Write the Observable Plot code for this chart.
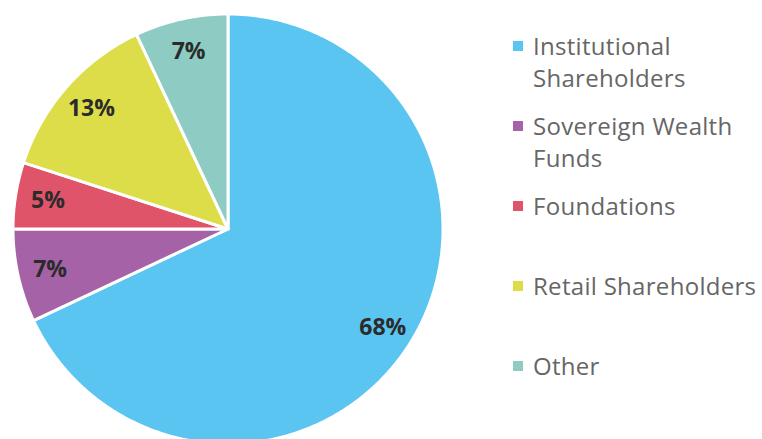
<!DOCTYPE html>
<html>
<head>
<meta charset="utf-8">
<script src="https://cdn.jsdelivr.net/npm/d3@7"></script>
<script src="https://cdn.jsdelivr.net/npm/@observablehq/plot@0.6"></script>
<style>
  html, body { margin: 0; padding: 0; background: #fff; }
  #wrap { display: flex; width: 762px; height: 439px; overflow: hidden; font-family: "Open Sans", sans-serif; }
  #chart svg { display: block; }
  #legend { padding-top: 30px; margin-left: 23px; }
  .item { height: 80px; display: flex; align-items: flex-start; }
  .sw { width: 10px; height: 10px; margin-top: 11px; margin-right: 10px; flex: none; }
  .lab { font-size: 24px; letter-spacing: 0.3px; line-height: 32px; color: #666; width: 229px; }
</style>
</head>
<body>
<div id="wrap"><div id="chart"></div><div id="legend"></div></div>
<script>
const categories = ["Institutional Shareholders", "Sovereign Wealth Funds", "Foundations", "Retail Shareholders", "Other"];
const shares = [68, 7, 5, 13, 7];
const labels = ["68%", "7%", "5%", "13%", "7%"];
const colors = ["#5bc5f2", "#a662a6", "#e0546a", "#dcdd49", "#8dcbc3"];

const data = categories.map((name, i) => ({name, value: shares[i], label: labels[i]}));
const arcs = d3.pie().sort(null).value(d => d.value).startAngle(0).endAngle(2 * Math.PI)(data);

// wedge outlines on the unit circle (0 rad = 12 o'clock, clockwise)
const wedgeRows = [];
for (const a of arcs) {
  const n = Math.max(2, Math.ceil((a.endAngle - a.startAngle) / 0.01));
  for (let k = 0; k <= n; k++) {
    const t = a.startAngle + (a.endAngle - a.startAngle) * k / n;
    wedgeRows.push({name: a.data.name, x1: Math.sin(t), y1: -Math.cos(t), x2: 0, y2: 0});
  }
}
const labelRows = arcs.map(a => {
  const m = (a.startAngle + a.endAngle) / 2, r = 0.85;
  return {name: a.data.name, label: a.data.label, x: r * Math.sin(m), y: -r * Math.cos(m)};
});

const chart = Plot.plot({
  width: 490,
  height: 439,
  margin: 0,
  style: {fontFamily: "Open Sans, sans-serif", background: "#fff"},
  x: {domain: [-1, 1], range: [13, 443], axis: null},
  y: {domain: [-1, 1], range: [14, 444], axis: null},
  color: {domain: categories, range: colors},
  marks: [
    Plot.area(wedgeRows, {x1: "x1", y1: "y1", x2: "x2", y2: "y2", z: "name", fill: "name",
      stroke: "white", strokeWidth: 3, strokeLinejoin: "round", curve: "linear"}),
    Plot.text(labelRows, {x: "x", y: "y", text: "label", fontSize: 23, fontWeight: "bold", fill: "#2b2b2b"})
  ]
});
document.getElementById("chart").appendChild(chart);

const legend = document.getElementById("legend");
categories.forEach((c, i) => {
  const item = document.createElement("div");
  item.className = "item";
  const sw = document.createElement("div");
  sw.className = "sw";
  sw.style.background = colors[i];
  const lab = document.createElement("div");
  lab.className = "lab";
  lab.textContent = c;
  item.appendChild(sw);
  item.appendChild(lab);
  legend.appendChild(item);
});
</script>
</body>
</html>
